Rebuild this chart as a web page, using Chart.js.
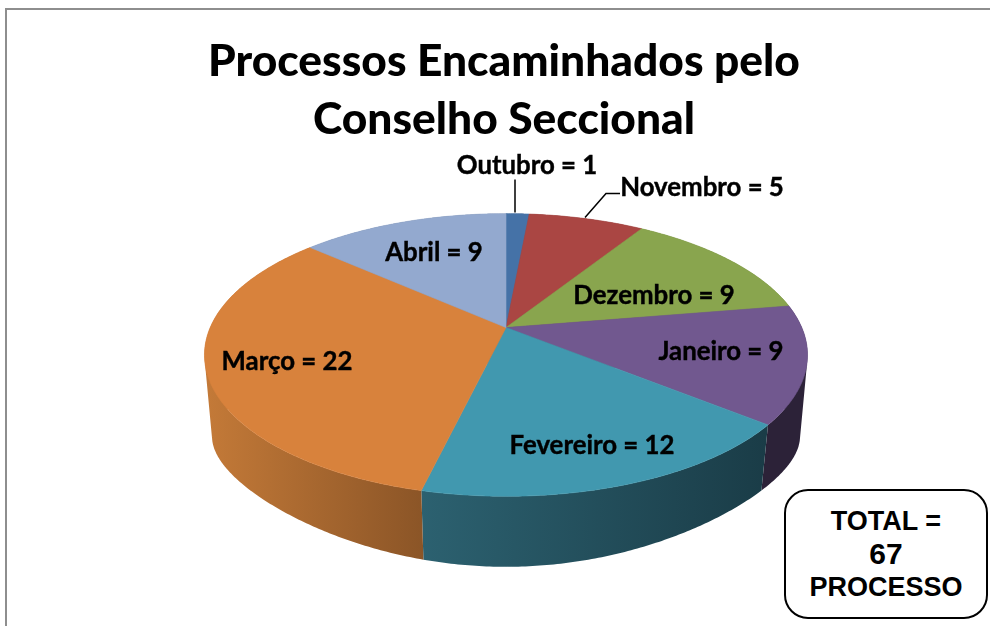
<!DOCTYPE html>
<html>
<head>
<meta charset="utf-8">
<script src="https://cdn.jsdelivr.net/npm/chart.js@4"></script>
<style>
  html, body { margin: 0; padding: 0; background: #fff; overflow: hidden; }
  #wrap { position: relative; width: 990px; height: 626px; }
  #frame { position: absolute; left: 5px; top: 8px; right: 0; bottom: 0; border-top: 2px solid #8e8e8e; border-left: 2px solid #8e8e8e; }
  #total { position: absolute; left: 784px; top: 489px; width: 204px; height: 130px; border: 2px solid #000; border-radius: 24px; background: #fff;
           font: bold 27px/32px "Liberation Sans", sans-serif; text-align: center; padding-top: 14px; box-sizing: border-box; color: #000; }
  #total b { font-size: 30px; line-height: 34px; }
</style>
</head>
<body>
<div id="wrap">
  <div id="frame"></div>
  <canvas id="chart" width="990" height="626"></canvas>
  <div id="total">TOTAL =<br><b>67</b><br>PROCESSO</div>
</div>
<script>
const titleLines = ["Processos Encaminhados pelo", "Conselho Seccional"];
const months = ["Outubro", "Novembro", "Dezembro", "Janeiro", "Fevereiro", "Março", "Abril"];
const processos = [1, 5, 9, 9, 12, 22, 9];
const topColors = ["#4572a7", "#aa4643", "#89a54e", "#71588f", "#4198af", "#d8823c", "#93a9cf"];
const sideColors = [
    ["#2f4e74", "#2f4e74"],
    ["#763030", "#763030"],
    ["#5f7236", "#5f7236"],
    ["#2c2238", "#2c2238"],
    ["#2c6170", "#1a3c47"],
    ["#c47a38", "#8b5527"],
    ["#66758f", "#66758f"],
];

// label spot relative to the pie centre
const labelOffsets = [[21, -162], [196, -140], [148, -32], [215, 24], [86, 118], [-219, 34], [-72, -75]];

// the pie is drawn tilted, with the far side shrunk
const pieRadius = 136;
const pieShiftX = 2;
const stretchX = 2.175;
const persp = 0.194;
const baseDrop = 92;
const baseHeight = 81;
const basePersp = 0.45;
const baseScaleX = 0.975;

function rimPoint(arc, angle, isBase) {
    const u = Math.cos(angle);
    const v = Math.sin(angle);
    const w = 1 - persp * v;
    const R = arc.outerRadius;
    const cx = arc.x + pieShiftX;
    if (isBase) {
        return [cx + baseScaleX * stretchX * R * u / w, arc.y + baseDrop + baseHeight * v / (1 - basePersp * v)];
    }
    return [cx + stretchX * R * u / w, arc.y + R * v / w];
}

function rimPath(arc, isBase) {
    const pts = [];
    const steps = Math.max(2, Math.ceil((arc.endAngle - arc.startAngle) / 0.01));
    for (let i = 0; i <= steps; i++) {
        pts.push(rimPoint(arc, arc.startAngle + (i / steps) * (arc.endAngle - arc.startAngle), isBase));
    }
    return pts;
}

function signedArea(poly) {
    let sum = 0;
    poly.forEach((p, i) => {
        const q = poly[(i + 1) % poly.length];
        sum += p[0] * q[1] - q[0] * p[1];
    });
    return sum;
}

const tiltedPie = {
    id: "tiltedPie",
    beforeDatasetsDraw(chart) {
        const ctx = chart.ctx;
        const arcs = chart.getDatasetMeta(0).data;
        ctx.save();

        // side walls first, the top covers whatever is behind
        arcs.forEach((arc, i) => {
            const upper = rimPath(arc, false);
            const lower = rimPath(arc, true);
            const xs = upper.concat(lower).map((p) => p[0]);
            const grad = ctx.createLinearGradient(Math.min(...xs), 0, Math.max(...xs), 0);
            grad.addColorStop(0, sideColors[i][0]);
            grad.addColorStop(1, sideColors[i][1]);
            ctx.beginPath();
            for (let k = 0; k < upper.length - 1; k++) {
                // keep each quad wound the same way or overlaps cancel out
                const quad = [upper[k], upper[k + 1], lower[k + 1], lower[k]];
                if (signedArea(quad) < 0) quad.reverse();
                ctx.moveTo(quad[0][0], quad[0][1]);
                quad.slice(1).forEach((p) => ctx.lineTo(p[0], p[1]));
                ctx.closePath();
            }
            ctx.fillStyle = grad;
            ctx.fill();
        });

        arcs.forEach((arc, i) => {
            ctx.beginPath();
            ctx.moveTo(arc.x + pieShiftX, arc.y);
            rimPath(arc, false).forEach((p) => ctx.lineTo(p[0], p[1]));
            ctx.closePath();
            ctx.fillStyle = topColors[i];
            ctx.strokeStyle = topColors[i];
            ctx.lineWidth = 0.6;
            ctx.fill();
            ctx.stroke();
        });

        // leader lines
        const c = arcs[0];
        const cx = c.x + pieShiftX;
        ctx.strokeStyle = "#000";
        ctx.lineWidth = 1.5;
        ctx.beginPath();
        ctx.moveTo(cx + 9, c.y - 148);
        ctx.lineTo(cx + 9, c.y - 115);
        ctx.moveTo(cx + 79, c.y - 110);
        ctx.lineTo(cx + 100, c.y - 134);
        ctx.lineTo(cx + 114, c.y - 134);
        ctx.stroke();

        ctx.font = 'bold 25.8px Lato, sans-serif';
        ctx.fillStyle = "#000";
        ctx.strokeStyle = "#000";
        ctx.lineWidth = 0.4;
        ctx.textAlign = "center";
        ctx.textBaseline = "middle";
        months.forEach((m, i) => {
            const lx = cx + labelOffsets[i][0];
            const ly = c.y + labelOffsets[i][1];
            ctx.fillText(m + " = " + processos[i], lx, ly);
            ctx.strokeText(m + " = " + processos[i], lx, ly);
        });

        ctx.restore();
        return false;
    },
};

new Chart(document.getElementById("chart"), {
    type: "pie",
    data: {
        labels: months,
        datasets: [{ data: processos, backgroundColor: topColors, radius: pieRadius, borderWidth: 0 }],
    },
    options: {
        responsive: false,
        animation: false,
        layout: { padding: { left: 18, bottom: 120 } },
        plugins: {
            legend: { display: false },
            tooltip: { enabled: false },
            title: {
                display: true,
                text: titleLines,
                color: "#000",
                font: { family: "Lato, sans-serif", size: 44.3, weight: "900", lineHeight: 1.31 },
                padding: { top: 33, bottom: 0 },
            },
        },
    },
    plugins: [tiltedPie],
});
</script>
</body>
</html>
